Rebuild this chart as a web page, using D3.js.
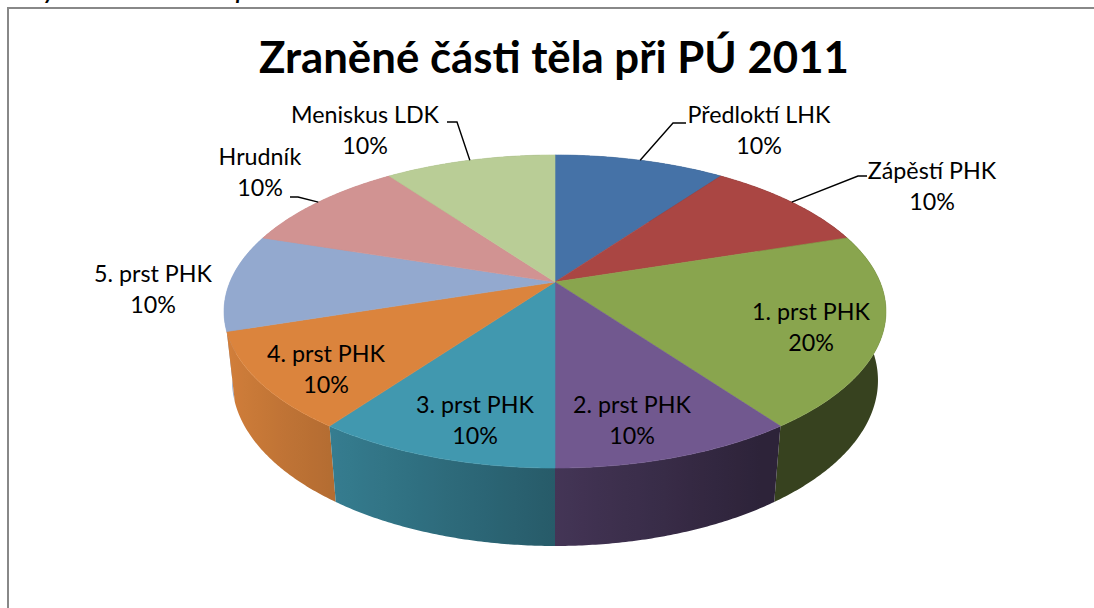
<!DOCTYPE html>
<html><head><meta charset="utf-8">
<script src="https://cdn.jsdelivr.net/npm/d3@7"></script>
<style>body{margin:0;background:#fff;overflow:hidden} svg{display:block}</style>
</head><body><svg id="c" width="1094" height="608"></svg>
<script>
// ---- data ----
const categories = ["Předloktí LHK","Zápěstí PHK","1. prst PHK","2. prst PHK","3. prst PHK","4. prst PHK","5. prst PHK","Hrudník","Meniskus LDK"];
const values = [1,1,2,1,1,1,1,1,1];
const percentLabels = ["10%","10%","20%","10%","10%","10%","10%","10%","10%"];
const colors = ["#4572A7","#AA4643","#89A54E","#71588F","#4198AF","#DB843D","#93A9CF","#D19392","#B9CD96"];
const title = "Zraněné části těla při PÚ 2011";

// ---- layout (label placement, Excel style) ----
const labelLayout = [
  {x:759, y:123, leader:[[673,123],[686,123]]},
  {x:932, y:179, leader:[[858,176],[867,176]]},
  {x:811, y:320},
  {x:632, y:413},
  {x:475, y:413},
  {x:326, y:362},
  {x:153, y:282},
  {x:260, y:165, leader:[[298,197],[290,197]]},
  {x:365, y:123, leader:[[457,122],[447,122]]}
];

const svg = d3.select("#c");
const W = 1094, H = 608;
const defs = svg.append("defs");

// chart frame
svg.append("rect").attr("x",8).attr("y",8).attr("width",W+20).attr("height",H+20)
  .attr("fill","#fff").attr("stroke","#888").attr("stroke-width",2);

// cut-off text from above the chart
svg.append("text").attr("x",44).attr("y",-1).attr("font-family","Lato, sans-serif")
  .attr("font-style","italic").attr("font-weight","bold").attr("font-size",22).text("y");
svg.append("text").attr("x",236).attr("y",-1).attr("font-family","Lato, sans-serif")
  .attr("font-style","italic").attr("font-weight","bold").attr("font-size",22).text("p");

// ---- 3D projection ----
const cx = 555, cy = 282, F = 1527, D = 4.698;
const sT = 0.4645, cT = 0.8856, depth = 0.2416;
function proj(theta, r, Y) {
  const X = r*Math.sin(theta), Z = r*Math.cos(theta);
  const v = Y*cT + Z*sT, w = D + Z*cT - Y*sT;
  return [cx + F*X/w, cy - F*v/w];
}
const shade = a => Math.max(0.4, 0.6 + 0.38*(-Math.sin(a)));
const shadeColor = (c, f) => { c = d3.rgb(c); return d3.rgb(c.r*f, c.g*f, c.b*f).toString(); };

const pie = d3.pie().sort(null).value(d => d)(values);
const step = Math.PI/360;
const line = d3.line();

// sides: one path per slice, with horizontal gradient for lighting; drawn back to front
const sides = pie.map((p,i) => ({p, i, z: Math.cos((p.startAngle+p.endAngle)/2)}))
  .sort((a,b) => b.z - a.z);
const sideG = svg.append("g");
sides.forEach(s => {
  const p = s.p, n = Math.ceil((p.endAngle-p.startAngle)/step);
  const top = [], bot = [];
  for (let k=0;k<=n;k++){
    const a = p.startAngle + (p.endAngle-p.startAngle)*k/n;
    top.push(proj(a,1,0)); bot.push(proj(a,1,-depth));
  }
  const xs = top.map(d=>d[0]);
  const x0 = Math.min(...xs), x1 = Math.max(...xs);
  const gid = "side"+s.i;
  const grad = defs.append("linearGradient").attr("id",gid).attr("gradientUnits","userSpaceOnUse")
    .attr("x1",x0).attr("x2",x1).attr("y1",0).attr("y2",0);
  const samples = [];
  for (let k=0;k<=n;k+=4){
    const a = p.startAngle + (p.endAngle-p.startAngle)*k/n;
    samples.push({x: top[k][0], c: shadeColor(colors[s.i], shade(a))});
  }
  samples.sort((a,b)=>a.x-b.x);
  samples.forEach(sm => grad.append("stop")
    .attr("offset", x1>x0 ? Math.min(1,Math.max(0,(sm.x-x0)/(x1-x0))) : 0).attr("stop-color", sm.c));
  sideG.append("path").attr("d", line(top.concat(bot.reverse())) + "Z")
    .attr("fill", `url(#${gid})`);
});

// top faces
svg.append("g").selectAll("path").data(pie).join("path")
  .attr("d", p => {
    const pts = [proj(0,0,0)];
    const n = Math.ceil((p.endAngle-p.startAngle)/step);
    for (let k=0;k<=n;k++) pts.push(proj(p.startAngle + (p.endAngle-p.startAngle)*k/n, 1, 0));
    return line(pts) + "Z";
  })
  .attr("fill", (p,i) => colors[i]).attr("stroke", (p,i) => colors[i]).attr("stroke-width",0.6);

// leader lines
svg.append("g").selectAll("path").data(pie.map((p,i)=>({p,i})).filter(d=>labelLayout[d.i].leader)).join("path")
  .attr("d", d => {
    const a = (d.p.startAngle + d.p.endAngle)/2;
    return line([proj(a,1,0), ...labelLayout[d.i].leader]);
  })
  .attr("fill","none").attr("stroke","#000").attr("stroke-width",1.4);

// title
const t = svg.append("text").attr("x",554).attr("y",73).attr("text-anchor","middle")
  .attr("font-family","Lato, 'Open Sans', sans-serif").attr("font-weight","bold")
  .attr("font-size",44).attr("fill","#000").text(title);
const tw = t.node().getComputedTextLength();
t.attr("font-size", 44*590/tw);

// labels
const lg = svg.append("g").attr("font-family","Lato, 'Open Sans', sans-serif").attr("fill","#000");
const probe = lg.append("text").attr("font-size",20).text(categories[0]);
const fs = 20*143/probe.node().getComputedTextLength();
probe.remove();
categories.forEach((c,i) => {
  const L = labelLayout[i];
  const tx = lg.append("text").attr("x",L.x).attr("y",L.y).attr("text-anchor","middle").attr("font-size",fs);
  tx.append("tspan").attr("x",L.x).text(c);
  tx.append("tspan").attr("x",L.x).attr("dy",31).text(percentLabels[i]);
});
</script></body></html>
